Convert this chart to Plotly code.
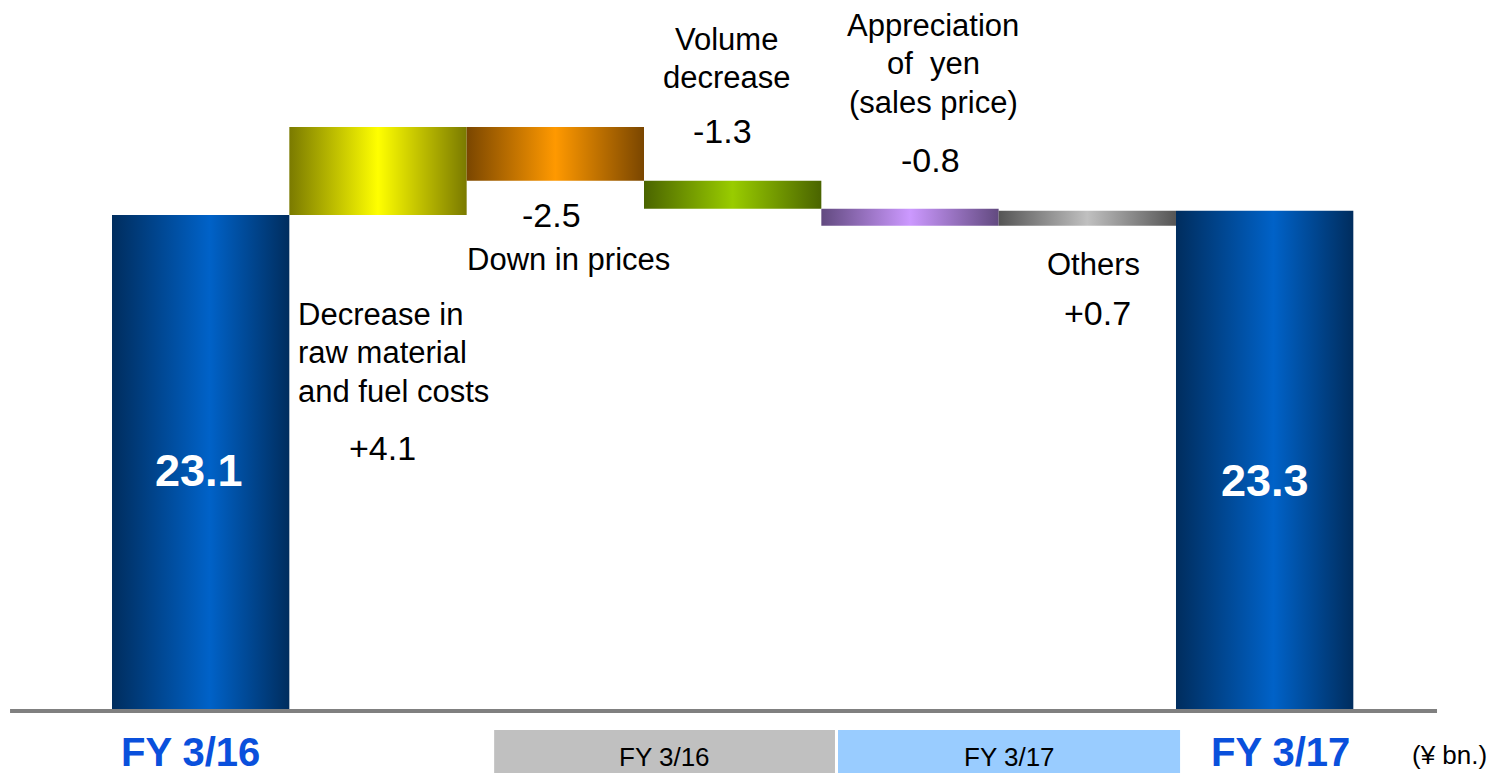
import plotly.graph_objects as go

# ---------------- data ----------------
categories = ["FY 3/16", "Decrease in raw material and fuel costs", "Down in prices",
              "Volume decrease", "Appreciation of yen (sales price)", "Others", "FY 3/17"]
values = [23.1, 4.1, -2.5, -1.3, -0.8, 0.7, 23.3]
kinds = ["total", "delta", "delta", "delta", "delta", "delta", "total"]
value_labels = ["23.1", "+4.1", "-2.5", "-1.3", "-0.8", "+0.7", "23.3"]
bar_edge_colors = ["#002d5e", "#7a7a00", "#7a4600", "#4a6400", "#624a80", "#555555", "#002d5e"]
bar_mid_colors = ["#0062c8", "#ffff00", "#ff9900", "#99cc00", "#cc99ff", "#c0c0c0", "#0062c8"]
period_labels = ["FY 3/16", "FY 3/17"]
unit_label = "(¥ bn.)"

FONT = "Liberation Sans, Arial, sans-serif"
BLUE = "#0a50dc"

fig = go.Figure()

# ---------------- waterfall bars (gradient-filled rectangles) ----------------
running = 0.0
half = 0.5
for i, (v, k) in enumerate(zip(values, kinds)):
    if k == "total":
        lo, hi = 0.0, v
        running = v
    else:
        lo, hi = sorted([running, running + v])
        running = running + v
    mid = 0.55 if k == "total" else 0.5
    fig.add_trace(go.Scatter(
        x=[i - half, i + half, i + half, i - half, i - half],
        y=[lo, lo, hi, hi, lo],
        mode="lines",
        line=dict(width=0, color="rgba(0,0,0,0)"),
        fill="toself",
        fillgradient=dict(
            type="horizontal",
            colorscale=[[0, bar_edge_colors[i]], [mid, bar_mid_colors[i]], [1, bar_edge_colors[i]]],
        ),
        hoverinfo="skip",
        showlegend=False,
    ))

# ---------------- baseline ----------------
fig.add_shape(type="line", x0=-1.075, x1=6.972, y0=0, y1=0, xref="x", yref="y",
              line=dict(color="#808080", width=4), layer="above")

# ---------------- period boxes ----------------
fig.add_shape(type="rect", x0=1.655, x1=3.577, y0=-0.885, y1=-3.2, xref="x", yref="y",
              fillcolor="#c0c0c0", line=dict(width=0), layer="below")
fig.add_shape(type="rect", x0=3.594, x1=5.523, y0=-0.885, y1=-3.2, xref="x", yref="y",
              fillcolor="#99ccff", line=dict(width=0), layer="below")

annotations = []
def ann(text, x, y, size=31, color="black", bold=False, xanchor="center"):
    t = f"<b>{text}</b>" if bold else text
    annotations.append(dict(text=t, x=x, y=y, xref="x", yref="y", showarrow=False,
                            xanchor=xanchor, yanchor="middle",
                            font=dict(family=FONT, size=size, color=color)))

LINE = 38.5 / 21.47  # line spacing in data units

def multiline(lines, x, y_first, xanchor="center"):
    for j, ln in enumerate(lines):
        ann(ln, x, y_first - j * LINE, xanchor=xanchor)

# category descriptions
multiline(["Decrease in", "raw material", "and fuel costs"], 0.537, 18.49, xanchor="left")
ann("Down in prices", 2.072, 21.05)
multiline(["Volume", "decrease"], 2.968, 31.30)
multiline(["Appreciation", "of  yen", "(sales price)"], 4.130, 31.95)
ann("Others", 5.032, 20.82)

# value labels
VS = 34
ann(value_labels[1], 1.023, 12.25, size=VS)
ann(value_labels[2], 1.981, 23.10, size=VS)
ann(value_labels[3], 2.940, 27.01, size=VS)
ann(value_labels[4], 4.113, 25.66, size=VS)
ann(value_labels[5], 5.060, 18.54, size=VS)
ann(value_labels[0], -0.009, 11.22, size=45, color="white", bold=True)
ann(value_labels[6], 6.002, 10.76, size=45, color="white", bold=True)

# x labels
ann(categories[0], -0.06, -1.91, size=40, color=BLUE, bold=True)
ann(categories[6], 6.087, -1.91, size=40, color=BLUE, bold=True)
ann(period_labels[0], 2.613, -2.14, size=26)
ann(period_labels[1], 4.559, -2.14, size=26)
ann(unit_label, 7.045, -2.05, size=26)

fig.update_layout(
    width=1499, height=773,
    margin=dict(l=0, r=0, t=0, b=0),
    paper_bgcolor="white", plot_bgcolor="white",
    xaxis=dict(range=[-1.1316, 7.3215], visible=False, fixedrange=True),
    yaxis=dict(range=[-2.888, 33.12], visible=False, fixedrange=True),
    annotations=annotations,
    showlegend=False,
)

fig.write_html("out.html")
